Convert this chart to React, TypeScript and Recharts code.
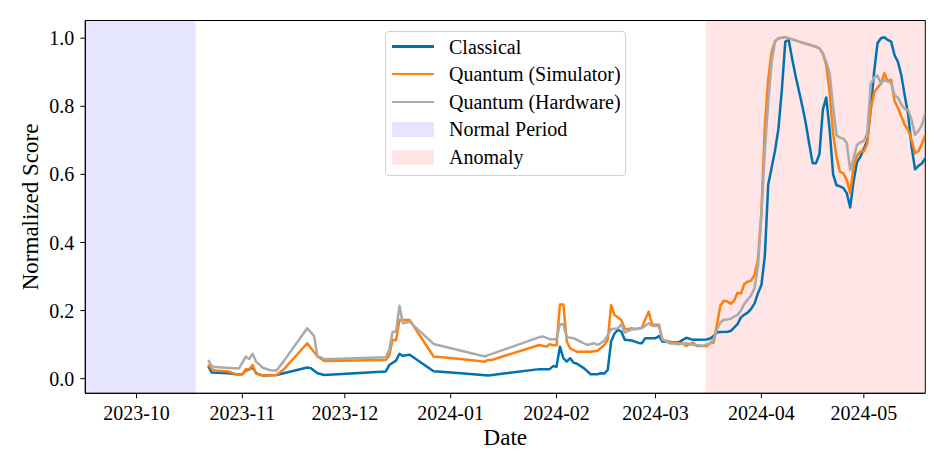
import React from 'react';
import { LineChart, Line, XAxis, YAxis, ReferenceArea, Legend, Label } from 'recharts';

const FONT = "'Liberation Serif', 'Times New Roman', Times, serif";

// [date, normalized score]
const classical: [string, number][] = [
  ['2023-10-22', 0.037], ['2023-10-23', 0.018], ['2023-10-28', 0.016], ['2023-10-30', 0.013],
  ['2023-11-01', 0.013], ['2023-11-02', 0.024], ['2023-11-03', 0.027], ['2023-11-04', 0.033],
  ['2023-11-05', 0.016], ['2023-11-07', 0.009], ['2023-11-11', 0.011], ['2023-11-20', 0.033],
  ['2023-11-21', 0.031], ['2023-11-23', 0.016], ['2023-11-25', 0.011], ['2023-12-13', 0.021],
  ['2023-12-14', 0.040], ['2023-12-16', 0.053], ['2023-12-17', 0.073], ['2023-12-18', 0.067],
  ['2023-12-20', 0.070], ['2023-12-27', 0.022], ['2024-01-04', 0.016], ['2024-01-12', 0.009],
  ['2024-01-27', 0.028], ['2024-01-30', 0.028], ['2024-01-31', 0.037], ['2024-02-01', 0.035],
  ['2024-02-02', 0.094], ['2024-02-03', 0.060], ['2024-02-04', 0.050], ['2024-02-05', 0.060],
  ['2024-02-06', 0.047], ['2024-02-07', 0.044], ['2024-02-09', 0.031], ['2024-02-11', 0.013],
  ['2024-02-13', 0.013], ['2024-02-14', 0.016], ['2024-02-15', 0.015], ['2024-02-16', 0.026],
  ['2024-02-17', 0.110], ['2024-02-18', 0.133], ['2024-02-19', 0.143], ['2024-02-20', 0.138],
  ['2024-02-21', 0.114], ['2024-02-23', 0.112], ['2024-02-25', 0.105], ['2024-02-26', 0.104],
  ['2024-02-27', 0.119], ['2024-03-01', 0.119], ['2024-03-02', 0.125], ['2024-03-03', 0.109],
  ['2024-03-06', 0.107], ['2024-03-08', 0.108], ['2024-03-10', 0.120], ['2024-03-12', 0.114],
  ['2024-03-16', 0.115], ['2024-03-17', 0.118], ['2024-03-18', 0.125], ['2024-03-19', 0.136],
  ['2024-03-20', 0.137], ['2024-03-22', 0.138], ['2024-03-23', 0.140], ['2024-03-24', 0.150],
  ['2024-03-25', 0.160], ['2024-03-26', 0.180], ['2024-03-27', 0.188], ['2024-03-28', 0.194],
  ['2024-03-29', 0.205], ['2024-03-30', 0.221], ['2024-03-31', 0.251], ['2024-04-01', 0.275],
  ['2024-04-02', 0.360], ['2024-04-03', 0.570], ['2024-04-04', 0.620], ['2024-04-05', 0.670],
  ['2024-04-06', 0.735], ['2024-04-07', 0.850], ['2024-04-08', 0.990], ['2024-04-09', 0.995],
  ['2024-04-10', 0.940], ['2024-04-11', 0.890], ['2024-04-12', 0.845], ['2024-04-13', 0.800],
  ['2024-04-14', 0.750], ['2024-04-15', 0.690], ['2024-04-16', 0.633], ['2024-04-17', 0.633],
  ['2024-04-18', 0.660], ['2024-04-19', 0.790], ['2024-04-20', 0.826], ['2024-04-21', 0.730],
  ['2024-04-22', 0.600], ['2024-04-23', 0.568], ['2024-04-24', 0.565], ['2024-04-25', 0.560],
  ['2024-04-26', 0.545], ['2024-04-27', 0.503], ['2024-04-28', 0.580], ['2024-04-29', 0.636],
  ['2024-04-30', 0.652], ['2024-05-01', 0.675], ['2024-05-02', 0.700], ['2024-05-03', 0.790],
  ['2024-05-04', 0.900], ['2024-05-05', 0.985], ['2024-05-06', 1.000], ['2024-05-07', 1.003],
  ['2024-05-08', 0.995], ['2024-05-09', 0.990], ['2024-05-10', 0.950], ['2024-05-11', 0.930],
  ['2024-05-12', 0.890], ['2024-05-13', 0.830], ['2024-05-14', 0.775], ['2024-05-15', 0.680],
  ['2024-05-16', 0.615], ['2024-05-17', 0.625], ['2024-05-18', 0.632], ['2024-05-19', 0.648],
];

const quantumSim: [string, number][] = [
  ['2023-10-22', 0.042], ['2023-10-23', 0.028], ['2023-10-24', 0.024], ['2023-10-28', 0.021],
  ['2023-10-30', 0.013], ['2023-11-01', 0.013], ['2023-11-02', 0.028], ['2023-11-03', 0.027],
  ['2023-11-04', 0.040], ['2023-11-05', 0.016], ['2023-11-07', 0.009], ['2023-11-11', 0.011],
  ['2023-11-13', 0.026], ['2023-11-20', 0.104], ['2023-11-23', 0.065], ['2023-11-25', 0.052],
  ['2023-12-13', 0.055], ['2023-12-14', 0.068], ['2023-12-15', 0.114], ['2023-12-16', 0.113],
  ['2023-12-17', 0.172], ['2023-12-20', 0.172], ['2023-12-27', 0.065], ['2024-01-04', 0.058],
  ['2024-01-11', 0.050], ['2024-01-12', 0.055], ['2024-01-13', 0.055], ['2024-01-27', 0.099],
  ['2024-01-29', 0.094], ['2024-01-30', 0.101], ['2024-01-31', 0.098], ['2024-02-01', 0.098],
  ['2024-02-02', 0.218], ['2024-02-03', 0.218], ['2024-02-04', 0.110], ['2024-02-05', 0.089],
  ['2024-02-07', 0.079], ['2024-02-11', 0.079], ['2024-02-13', 0.082], ['2024-02-15', 0.099],
  ['2024-02-16', 0.114], ['2024-02-17', 0.216], ['2024-02-18', 0.187], ['2024-02-20', 0.172],
  ['2024-02-21', 0.147], ['2024-02-22', 0.145], ['2024-02-23', 0.148], ['2024-02-24', 0.145],
  ['2024-02-26', 0.150], ['2024-02-28', 0.197], ['2024-02-29', 0.158], ['2024-03-02', 0.158],
  ['2024-03-03', 0.114], ['2024-03-06', 0.106], ['2024-03-09', 0.103], ['2024-03-10', 0.096],
  ['2024-03-12', 0.106], ['2024-03-13', 0.096], ['2024-03-16', 0.096], ['2024-03-17', 0.104],
  ['2024-03-18', 0.106], ['2024-03-19', 0.160], ['2024-03-20', 0.215], ['2024-03-21', 0.229],
  ['2024-03-22', 0.227], ['2024-03-23', 0.220], ['2024-03-24', 0.229], ['2024-03-25', 0.252],
  ['2024-03-26', 0.250], ['2024-03-27', 0.278], ['2024-03-28', 0.285], ['2024-03-29', 0.288],
  ['2024-03-30', 0.305], ['2024-03-31', 0.350], ['2024-04-01', 0.490], ['2024-04-02', 0.740],
  ['2024-04-03', 0.880], ['2024-04-04', 0.960], ['2024-04-05', 0.992], ['2024-04-06', 1.000],
  ['2024-04-08', 1.003], ['2024-04-12', 0.990], ['2024-04-17', 0.975], ['2024-04-18', 0.970],
  ['2024-04-19', 0.955], ['2024-04-20', 0.920], ['2024-04-21', 0.840], ['2024-04-22', 0.720],
  ['2024-04-23', 0.652], ['2024-04-24', 0.608], ['2024-04-25', 0.603], ['2024-04-26', 0.584],
  ['2024-04-27', 0.545], ['2024-04-28', 0.623], ['2024-04-29', 0.655], ['2024-04-30', 0.667],
  ['2024-05-01', 0.667], ['2024-05-02', 0.690], ['2024-05-03', 0.790], ['2024-05-04', 0.840],
  ['2024-05-05', 0.855], ['2024-05-06', 0.866], ['2024-05-07', 0.897], ['2024-05-08', 0.873],
  ['2024-05-09', 0.878], ['2024-05-10', 0.815], ['2024-05-11', 0.795], ['2024-05-12', 0.770],
  ['2024-05-13', 0.745], ['2024-05-14', 0.731], ['2024-05-15', 0.700], ['2024-05-16', 0.662],
  ['2024-05-17', 0.668], ['2024-05-18', 0.690], ['2024-05-19', 0.716],
];

const quantumHw: [string, number][] = [
  ['2023-10-22', 0.055], ['2023-10-23', 0.037], ['2023-10-24', 0.034], ['2023-10-27', 0.032],
  ['2023-10-31', 0.030], ['2023-11-02', 0.065], ['2023-11-03', 0.058], ['2023-11-04', 0.073],
  ['2023-11-05', 0.050], ['2023-11-07', 0.032], ['2023-11-09', 0.025], ['2023-11-11', 0.024],
  ['2023-11-13', 0.050], ['2023-11-20', 0.148], ['2023-11-22', 0.125], ['2023-11-23', 0.065],
  ['2023-11-24', 0.063], ['2023-11-25', 0.057], ['2023-12-13', 0.063], ['2023-12-14', 0.084],
  ['2023-12-15', 0.138], ['2023-12-16', 0.138], ['2023-12-17', 0.214], ['2023-12-18', 0.163],
  ['2023-12-20', 0.167], ['2023-12-27', 0.102], ['2024-01-11', 0.065], ['2024-01-12', 0.069],
  ['2024-01-27', 0.122], ['2024-01-28', 0.124], ['2024-01-30', 0.116], ['2024-02-01', 0.116],
  ['2024-02-02', 0.160], ['2024-02-03', 0.160], ['2024-02-04', 0.122], ['2024-02-06', 0.119],
  ['2024-02-08', 0.109], ['2024-02-09', 0.104], ['2024-02-10', 0.099], ['2024-02-12', 0.104],
  ['2024-02-13', 0.099], ['2024-02-15', 0.111], ['2024-02-17', 0.145], ['2024-02-19', 0.148],
  ['2024-02-20', 0.160], ['2024-02-21', 0.135], ['2024-02-23', 0.145], ['2024-02-26', 0.148],
  ['2024-02-28', 0.163], ['2024-02-29', 0.155], ['2024-03-02', 0.155], ['2024-03-03', 0.116],
  ['2024-03-05', 0.104], ['2024-03-08', 0.101], ['2024-03-10', 0.104], ['2024-03-12', 0.099],
  ['2024-03-15', 0.097], ['2024-03-17', 0.104], ['2024-03-18', 0.114], ['2024-03-19', 0.145],
  ['2024-03-20', 0.165], ['2024-03-21', 0.173], ['2024-03-22', 0.174], ['2024-03-23', 0.176],
  ['2024-03-24', 0.182], ['2024-03-25', 0.187], ['2024-03-26', 0.200], ['2024-03-27', 0.220],
  ['2024-03-28', 0.232], ['2024-03-29', 0.245], ['2024-03-30', 0.266], ['2024-03-31', 0.330],
  ['2024-04-01', 0.480], ['2024-04-02', 0.670], ['2024-04-03', 0.810], ['2024-04-04', 0.930],
  ['2024-04-05', 0.990], ['2024-04-06', 1.000], ['2024-04-08', 1.003], ['2024-04-12', 0.990],
  ['2024-04-17', 0.975], ['2024-04-18', 0.970], ['2024-04-19', 0.955], ['2024-04-20', 0.930],
  ['2024-04-21', 0.897], ['2024-04-22', 0.800], ['2024-04-23', 0.715], ['2024-04-24', 0.708],
  ['2024-04-25', 0.705], ['2024-04-26', 0.692], ['2024-04-27', 0.613], ['2024-04-28', 0.647],
  ['2024-04-29', 0.687], ['2024-04-30', 0.694], ['2024-05-01', 0.698], ['2024-05-02', 0.720],
  ['2024-05-03', 0.865], ['2024-05-04', 0.885], ['2024-05-05', 0.890], ['2024-05-06', 0.868],
  ['2024-05-07', 0.878], ['2024-05-08', 0.873], ['2024-05-09', 0.868], ['2024-05-10', 0.833],
  ['2024-05-11', 0.825], ['2024-05-12', 0.805], ['2024-05-13', 0.792], ['2024-05-14', 0.789],
  ['2024-05-15', 0.760], ['2024-05-16', 0.716], ['2024-05-17', 0.728], ['2024-05-18', 0.745],
  ['2024-05-19', 0.780],
];

const xTickDates = ['2023-10-01', '2023-11-01', '2023-12-01', '2024-01-01', '2024-02-01', '2024-03-01', '2024-04-01', '2024-05-01'];
const yTicks = [0, 0.2, 0.4, 0.6, 0.8, 1.0];
const xDomainDates = ['2023-09-16', '2024-05-19'];
const yDomain: [number, number] = [-0.043, 1.052];
const normalPeriod = ['2023-09-16', '2023-10-18T06:00:00Z'];
const anomalyPeriod = ['2024-03-15T16:00:00Z', '2024-05-19'];

const series = [
  { name: 'Classical', color: '#0072B2', values: classical },
  { name: 'Quantum (Simulator)', color: '#FF7F0E', values: quantumSim },
  { name: 'Quantum (Hardware)', color: '#AAAAAA', values: quantumHw },
];
const spans = [
  { name: 'Normal Period', color: '#E5E5FF', range: normalPeriod },
  { name: 'Anomaly', color: '#FFE5E5', range: anomalyPeriod },
];

const toT = (s: string) => Date.parse(s);
const toPoints = (arr: [string, number][]) => arr.map(([d, v]) => ({ t: toT(d), score: v }));

const fmtMonth = (t: number) => {
  const d = new Date(t);
  return `${d.getUTCFullYear()}-${String(d.getUTCMonth() + 1).padStart(2, '0')}`;
};

const LegendBox = () => {
  const rows = [
    ...series.map((s) => ({ name: s.name, color: s.color, kind: 'line' })),
    ...spans.map((s) => ({ name: s.name, color: s.color, kind: 'patch' })),
  ];
  return (
    <div
      style={{
        boxSizing: 'border-box',
        width: 241,
        height: 145,
        border: '1px solid #d0d0d0',
        borderRadius: 4,
        background: 'rgba(255,255,255,0.85)',
        position: 'relative',
        fontFamily: FONT,
        fontSize: 20,
        color: '#000',
      }}
    >
      {rows.map((r, i) => (
        <div
          key={r.name}
          style={{
            position: 'absolute',
            left: 0,
            top: 14.6 + 27.6 * i - 14,
            height: 28,
            display: 'flex',
            alignItems: 'center',
            whiteSpace: 'nowrap',
          }}
        >
          {r.kind === 'line' ? (
            <div style={{ marginLeft: 6, width: 42, height: 2.6, background: r.color }} />
          ) : (
            <div style={{ marginLeft: 6, width: 42, height: 15, background: r.color }} />
          )}
          <span style={{ marginLeft: 15, lineHeight: '28px' }}>{r.name}</span>
        </div>
      ))}
    </div>
  );
};

const YLabel = (props: any) => {
  const vb = props.viewBox || { x: 25.3, y: 20.5, width: 60, height: 372.8 };
  const cx = vb.x + 13.2;
  const cy = vb.y + vb.height / 2;
  return (
    <text
      x={cx}
      y={cy}
      transform={`rotate(-90 ${cx} ${cy})`}
      textAnchor="middle"
      fontSize={23}
      fontFamily={FONT}
      fill="#000"
    >
      Normalized Score
    </text>
  );
};

export default function App() {
  const xDomain: [number, number] = [toT(xDomainDates[0]), toT(xDomainDates[1])];
  const xTicks = xTickDates.map(toT);
  const tickStyle = { fill: '#000', fontSize: 20, fontFamily: FONT };
  return (
    <div style={{ position: 'absolute', left: 0, top: 0, width: 947, height: 473, background: '#fff' }}>
      <LineChart width={947} height={473} margin={{ top: 20.5, right: 21.7, bottom: 19.7, left: 25.3 }}>
        {spans.map((s) => (
          <ReferenceArea
            key={s.name}
            x1={toT(s.range[0])}
            x2={toT(s.range[1])}
            fill={s.color}
            fillOpacity={1}
            stroke="none"
            ifOverflow="hidden"
          />
        ))}
        <XAxis
          dataKey="t"
          type="number"
          domain={xDomain}
          allowDataOverflow
          ticks={xTicks}
          tickFormatter={fmtMonth}
          height={60}
          tick={tickStyle}
          tickSize={5}
          tickMargin={7}
          axisLine={{ stroke: '#000', strokeWidth: 1 }}
          tickLine={{ stroke: '#000', strokeWidth: 1 }}
        >
          <Label value="Date" position="insideBottom" offset={8} fill="#000" fontSize={23} fontFamily={FONT} />
        </XAxis>
        <YAxis
          type="number"
          domain={yDomain}
          allowDataOverflow
          ticks={yTicks}
          tickFormatter={(v: number) => v.toFixed(1)}
          width={60}
          tick={tickStyle}
          tickSize={5}
          tickMargin={6}
          axisLine={{ stroke: '#000', strokeWidth: 1 }}
          tickLine={{ stroke: '#000', strokeWidth: 1 }}
        >
          <Label content={<YLabel />} />
        </YAxis>
        {series.map((s) => (
          <Line
            key={s.name}
            name={s.name}
            data={toPoints(s.values)}
            dataKey="score"
            type="linear"
            stroke={s.color}
            strokeWidth={2.5}
            strokeLinejoin="round"
            dot={false}
            activeDot={false}
            isAnimationActive={false}
          />
        ))}
        <ReferenceArea
          x1={xDomain[0]}
          x2={xDomain[1]}
          y1={yDomain[0]}
          y2={yDomain[1]}
          fill="none"
          stroke="#000"
          strokeWidth={1}
          ifOverflow="visible"
        />
        <Legend
          layout="vertical"
          align="center"
          verticalAlign="middle"
          content={<LegendBox />}
          wrapperStyle={{ left: 385, top: 31, width: 241, height: 145 }}
        />
      </LineChart>
    </div>
  );
}
